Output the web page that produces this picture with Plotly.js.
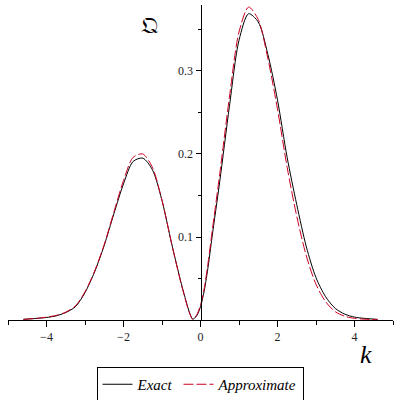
<!DOCTYPE html>
<html>
<head>
<meta charset="utf-8">
<script src="https://cdn.plot.ly/plotly-3.0.1.min.js"></script>
<style>html,body{margin:0;padding:0;background:#fff;}#chart{width:400px;height:400px;}</style>
</head>
<body>
<div id="chart"></div>
<script>
const kValues = [-4.6, -4.25, -4.0, -3.75, -3.5, -3.25, -3.0, -2.75, -2.5, -2.25, -2.0, -1.75, -1.5, -1.25, -1.0, -0.75, -0.5, -0.4, -0.3, -0.2, -0.1, 0, 0.1, 0.2, 0.3, 0.5, 0.75, 1.0, 1.25, 1.5, 1.75, 2.0, 2.25, 2.5, 2.75, 3.0, 3.25, 3.5, 3.75, 4.0, 4.25, 4.6];
const exactValues = [0.0008, 0.002, 0.003, 0.005, 0.009, 0.016, 0.033, 0.058, 0.090, 0.128, 0.164, 0.191, 0.195, 0.181, 0.144, 0.092, 0.044, 0.027, 0.011, 0.001, 0.005, 0.016, 0.036, 0.065, 0.100, 0.167, 0.257, 0.337, 0.369, 0.359, 0.320, 0.265, 0.196, 0.139, 0.088, 0.051, 0.028, 0.014, 0.007, 0.0035, 0.002, 0.0008];
const approxValues = [0.0008, 0.002, 0.0035, 0.0055, 0.0095, 0.017, 0.034, 0.059, 0.091, 0.130, 0.168, 0.196, 0.200, 0.184, 0.144, 0.092, 0.043, 0.026, 0.010, 0.001, 0.006, 0.018, 0.039, 0.070, 0.106, 0.176, 0.268, 0.347, 0.377, 0.362, 0.315, 0.254, 0.184, 0.125, 0.077, 0.043, 0.022, 0.010, 0.0045, 0.002, 0.001, 0.0004];
const xTickVals = [-4, -2, 0, 2, 4];
const yTickVals = [0.1, 0.2, 0.3];
const yMinorVals = [0.05, 0.15, 0.25, 0.35];
const seriesNames = ["Exact", "Approximate"];

const serif = "'Liberation Serif', 'Times New Roman', serif";

const traces = [
  {x: kValues, y: exactValues, name: "<i>" + seriesNames[0] + "</i>", mode: "lines",
   line: {color: "#000000", width: 1, shape: "spline", smoothing: 0.8}},
  {x: kValues, y: approxValues, name: "<i>" + seriesNames[1] + "</i>", mode: "lines",
   line: {color: "#cc0022", width: 1, dash: "10px,3px", shape: "spline", smoothing: 0.8}}
];

const layout = {
  width: 400, height: 400,
  margin: {l: 8, r: 7, t: 5, b: 80},
  paper_bgcolor: "#ffffff", plot_bgcolor: "#ffffff",
  showlegend: true,
  legend: {orientation: "h", xref: "container", yref: "container", x: 0.5, xanchor: "center", y: 0.0825, yanchor: "top",
           bordercolor: "#000", borderwidth: 1, font: {family: serif, size: 15, color: "#000"},
           itemwidth: 30, tracegroupgap: 0},
  xaxis: {range: [-5, 5], showgrid: false, zeroline: false, showline: true, linecolor: "#000", linewidth: 1,
          tickmode: "array", tickvals: xTickVals, ticks: "outside", ticklen: 6, tickcolor: "#000",
          minor: {dtick: 1, tick0: 1, ticks: "outside", ticklen: 4, tickcolor: "#000"},
          tickfont: {family: serif, size: 12, color: "#222"}, fixedrange: true},
  yaxis: {range: [0, 0.3795], anchor: "free", position: 0.5, side: "left",
          showgrid: false, zeroline: false, showline: true, linecolor: "#000", linewidth: 1,
          tickmode: "array", tickvals: yTickVals, ticks: "outside", ticklen: 5, tickcolor: "#000",
          minor: {tickmode: "array", tickvals: yMinorVals, ticks: "outside", ticklen: 3, tickcolor: "#000"},
          tickfont: {family: serif, size: 12, color: "#222"}, fixedrange: true},
  annotations: [
    {text: "<i>k</i>", xref: "paper", yref: "paper", x: 0.93, y: -0.111, xanchor: "center", yanchor: "middle", showarrow: false,
     font: {family: serif, size: 26, color: "#000"}},
    {text: "\u{1D514}", xref: "paper", yref: "paper", x: 0.369, y: 0.937, xanchor: "center", yanchor: "middle", showarrow: false,
     font: {family: "'DejaVu Serif', 'DejaVu Sans', serif", size: 23, color: "#000"}}
  ]
};

Plotly.newPlot("chart", traces, layout, {displayModeBar: false, staticPlot: true});
</script>
</body>
</html>
